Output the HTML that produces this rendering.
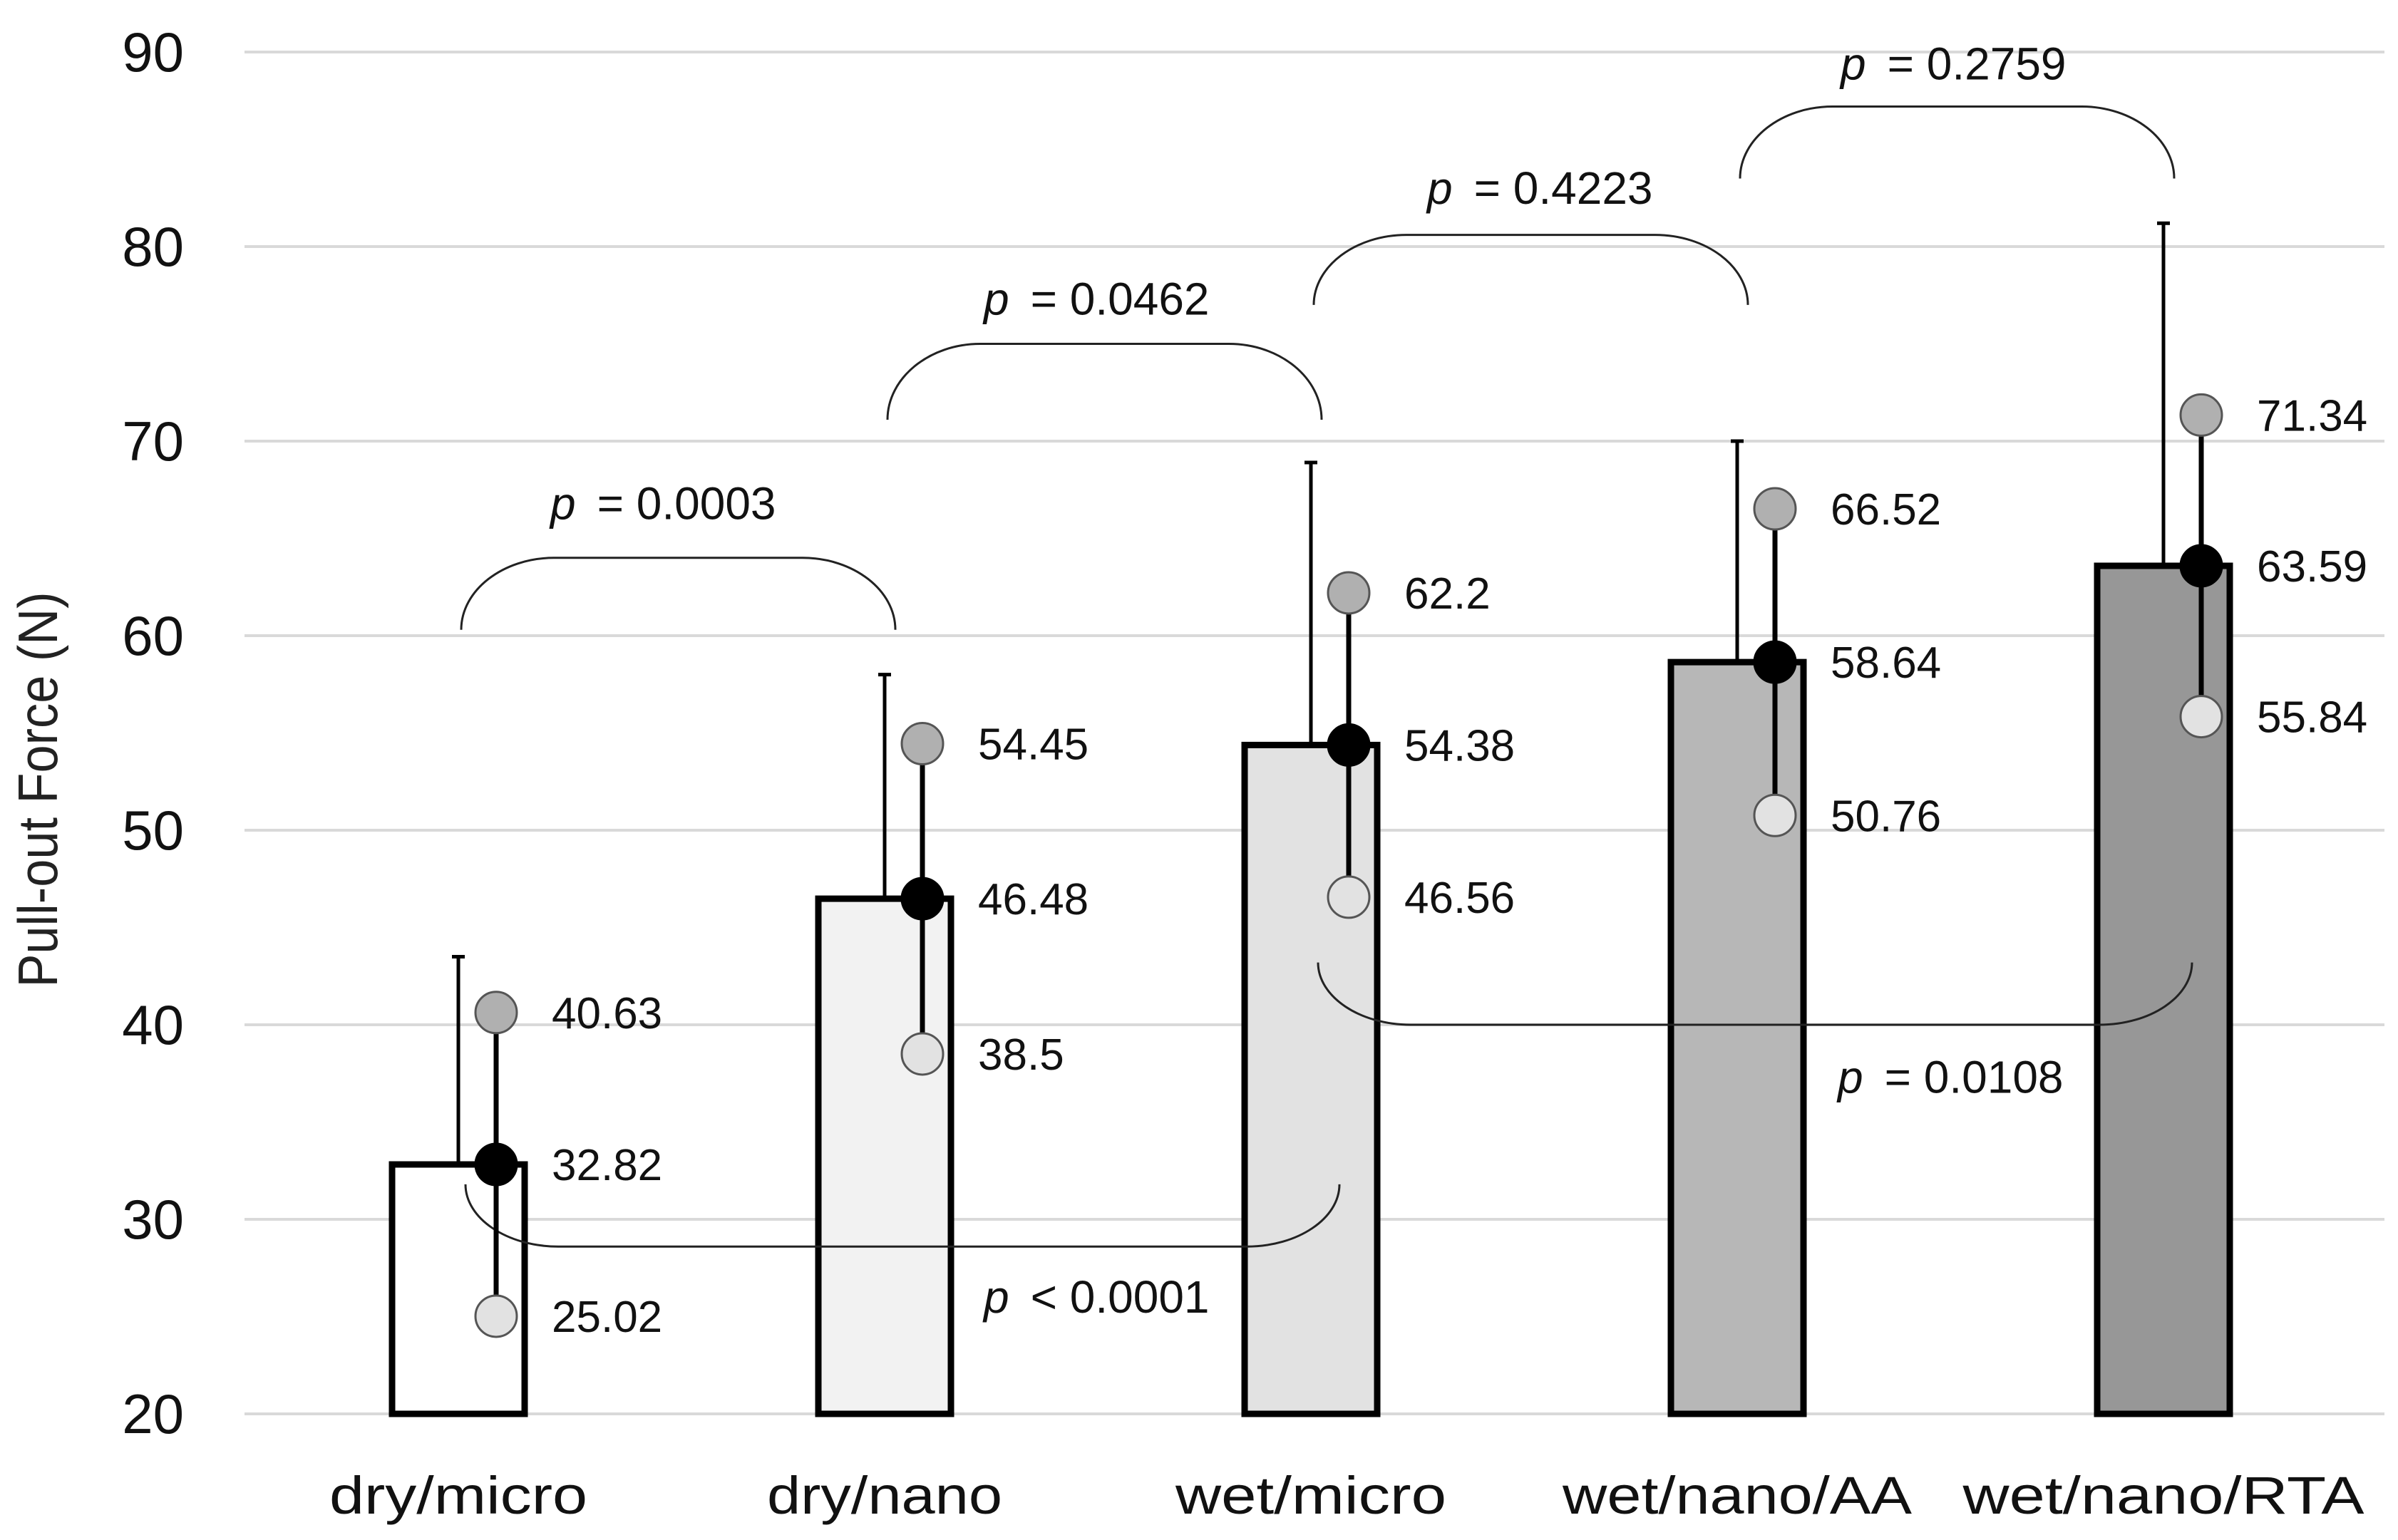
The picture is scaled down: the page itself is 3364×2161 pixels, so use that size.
<!DOCTYPE html>
<html><head><meta charset="utf-8"><style>
html,body{margin:0;padding:0;background:#fff;}
svg{display:block;font-family:"Liberation Sans","DejaVu Sans",sans-serif;}
</style></head><body>
<svg id="chart" width="3364" height="2161" viewBox="0 0 3364 2161" xmlns="http://www.w3.org/2000/svg">
<rect width="3364" height="2161" fill="#fff"/>
<g id="grid"></g>
<g id="yticks"></g>
<text transform="translate(80,1108) rotate(-90)" text-anchor="middle" font-size="78" textLength="555" lengthAdjust="spacingAndGlyphs" fill="#222">Pull-out Force (N)</text>
<g id="bars"></g>
<g id="brackets"></g>
<g id="points"></g>
<g id="xlabels"></g>
</svg>
<script>
const categories = ["dry/micro","dry/nano","wet/micro","wet/nano/AA","wet/nano/RTA"];
const means = [32.82,46.48,54.38,58.64,63.59];
const uppers = [40.63,54.45,62.2,66.52,71.34];
const lowers = [25.02,38.5,46.56,50.76,55.84];
const sdTops = [43.5,58.0,68.9,70.0,81.2];
const barFills = ["#ffffff","#f2f2f2","#e2e2e2","#b7b7b7","#979797"];
const yTicks = [20,30,40,50,60,70,80,90];
const xLabelWidths = [362,330,380,490,563];
// brackets: [fromIndex, toIndex, endValue, extremeValue, textValue, label]
const bracketFrom = [0,1,2,3,0,2];
const bracketTo = [1,2,3,4,2,4];
const bracketEnd = [60.3,71.1,77.0,83.5,31.8,43.2];
const bracketPeak = [64.0,75.0,80.6,87.2,28.6,40.0];
const bracketTextVal = [66.8,77.3,83.0,89.4,26.0,37.3];
const bracketLabels = ["= 0.0003","= 0.0462","= 0.4223","= 0.2759","< 0.0001","= 0.0108"];

const NS = "http://www.w3.org/2000/svg";
function y(v){ return 1984 - (v-20)*27.3; }
function x(i){ return 643 + i*598; }
function mk(tag, attrs, parent){ const e=document.createElementNS(NS,tag); for(const k in attrs) e.setAttribute(k,attrs[k]); parent.appendChild(e); return e; }

const grid=document.getElementById('grid'), yt=document.getElementById('yticks');
yTicks.forEach(t=>{
  const l=mk('line',{x1:343,x2:3345,y1:y(t),y2:y(t),stroke:'#d9d9d9','stroke-width':4},grid);
  
  
  const tx=mk('text',{x:258,y:y(t)+27,'text-anchor':'end','font-size':78,fill:'#111'},yt);
  tx.textContent=t;
  
  
});

const bars=document.getElementById('bars'), pts=document.getElementById('points'), xl=document.getElementById('xlabels');
categories.forEach((c,i)=>{
  const cx=x(i), w=186;
  const b=mk('rect',{x:cx-w/2,y:y(means[i]),width:w,height:y(20)-y(means[i]),fill:barFills[i],stroke:'#000','stroke-width':9},bars);
  
  
  const eb=mk('line',{x1:cx,x2:cx,y1:y(means[i]),y2:y(sdTops[i]),stroke:'#000','stroke-width':5},bars);
  
  
  const cap=mk('line',{x1:cx-9,x2:cx+9,y1:y(sdTops[i]),y2:y(sdTops[i]),stroke:'#000','stroke-width':5},bars);
  
  
  const px=cx+53;
  const rl=mk('line',{x1:px,x2:px,y1:y(uppers[i]),y2:y(lowers[i]),stroke:'#000','stroke-width':7},pts);
  
  
  [[uppers[i],'#b0b0b0','upper'],[lowers[i],'#e2e2e2','lower'],[means[i],'#000','mean']].forEach(([v,f,n])=>{
    const ci=mk('circle',{cx:px,cy:y(v),r:29,fill:f,stroke:n==='mean'?'#000':'#555','stroke-width':3},pts);
    
    
    const lt=mk('text',{x:cx+131,y:y(v)+22,'font-size':62,fill:'#111'},pts);
    lt.textContent=String(v);
    
    
  });
  const t=mk('text',{x:cx,y:2124,'text-anchor':'middle','font-size':74,fill:'#111',textLength:xLabelWidths[i],lengthAdjust:'spacingAndGlyphs'},xl);
  t.textContent=c;
  
  
});

const br=document.getElementById('brackets');
bracketFrom.forEach((f,k)=>{
  const x1=x(f)+(k>=4?10:4), x2=x(bracketTo[k])+(k>=4?40:15);
  const ye=y(bracketEnd[k]), yp=y(bracketPeak[k]), r=130;
  const d=`M${x1},${ye} C${x1},${ye+(yp-ye)*0.55} ${x1+r*0.45},${yp} ${x1+r},${yp} L${x2-r},${yp} C${x2-r*0.45},${yp} ${x2},${ye+(yp-ye)*0.55} ${x2},${ye}`;
  const p=mk('path',{d:d,fill:'none',stroke:'#222','stroke-width':3},br);
  
  
  const tx0=[772,1380,2002,2582,1380,2578][k];
  const t=mk('text',{x:tx0,y:y(bracketTextVal[k])+22,'font-size':64,fill:'#111'},br);
  const ts=mk('tspan',{'font-style':'italic'},t); ts.textContent='p';
  const ts2=mk('tspan',{dx:30},t); ts2.textContent=bracketLabels[k];
  
  
});
</script>
</body></html>
